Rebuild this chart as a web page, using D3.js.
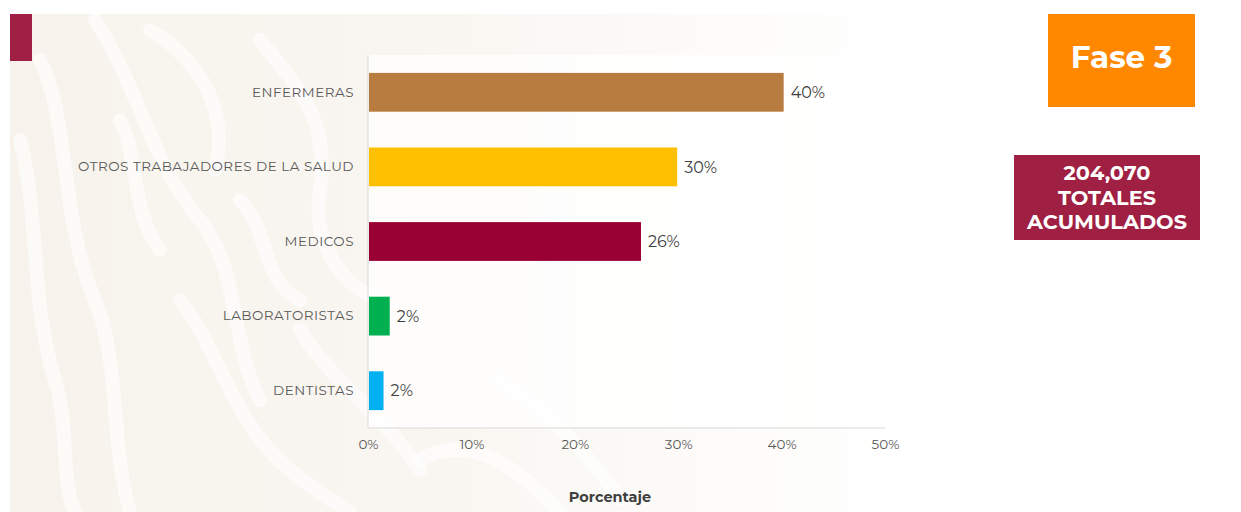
<!DOCTYPE html>
<html>
<head>
<meta charset="utf-8">
<script src="https://cdn.jsdelivr.net/npm/d3@7"></script>
<style>
  html, body { margin: 0; padding: 0; background: #ffffff; }
  svg { display: block; }
</style>
</head>
<body>
<svg id="chart" width="1241" height="512"></svg>
<script>
// Health-worker categories and their share of accumulated cases (%)
const categories = ["ENFERMERAS", "OTROS TRABAJADORES DE LA SALUD", "MEDICOS", "LABORATORISTAS", "DENTISTAS"];
const shares = [40.2, 29.9, 26.4, 2.1, 1.5];
const barColors = ["#b87b40", "#ffc000", "#990033", "#00b050", "#00b0f0"];
const tickValues = [0, 10, 20, 30, 40, 50];
const axisTitle = "Porcentaje";
const phaseLabel = "Fase 3";
const totalLines = ["204,070", "TOTALES", "ACUMULADOS"];

const svg = d3.select("#chart");
const font = "Montserrat, 'Open Sans', sans-serif";

// Decorative beige backdrop fading to white
const defs = svg.append("defs");
const grad = defs.append("linearGradient").attr("id", "bgfade").attr("x1", 0).attr("x2", 1).attr("y1", 0).attr("y2", 0);
grad.append("stop").attr("offset", "0%").attr("stop-color", "#f7f3ec");
grad.append("stop").attr("offset", "45%").attr("stop-color", "#f9f6f1");
grad.append("stop").attr("offset", "100%").attr("stop-color", "#ffffff");
svg.append("rect").attr("x", 10).attr("y", 14).attr("width", 900).attr("height", 498).attr("fill", "url(#bgfade)");

// Stylised white swirls of the backdrop ornament
const swirls = [
  "M40,60 C70,120 60,220 95,300 C120,360 110,440 130,512",
  "M95,20 C140,90 150,160 200,220 C240,270 230,340 260,400",
  "M20,140 C40,220 30,300 55,380 C70,430 60,480 75,512",
  "M150,30 C200,60 230,110 215,170",
  "M260,40 C300,90 330,120 320,190 C310,250 350,290 380,300",
  "M180,300 C220,350 230,420 290,470 C320,495 340,505 350,512",
  "M300,330 C330,380 380,410 420,470",
  "M240,200 C270,230 260,280 300,300",
  "M120,120 C140,160 130,210 160,250",
  "M420,460 C470,430 520,470 560,512",
  "M500,380 C540,410 580,440 620,500"
];
svg.append("g").selectAll("path").data(swirls).join("path")
  .attr("d", d => d)
  .attr("fill", "none")
  .attr("stroke", "#ffffff")
  .attr("stroke-width", 14)
  .attr("stroke-linecap", "round")
  .attr("opacity", 0.6);

// Plot area
const x = d3.scaleLinear().domain([0, 50]).range([368, 885]);
const y = d3.scaleBand().domain(categories).range([55, 428]).paddingInner(0.48).paddingOuter(0.24);

svg.append("rect").attr("x", 368).attr("y", 55).attr("width", 517).attr("height", 373)
  .attr("fill", "#ffffff").attr("opacity", 0.75);

// Axis lines
svg.append("line").attr("x1", x(0)).attr("x2", x(0)).attr("y1", 55).attr("y2", 428)
  .attr("stroke", "#d9d9d9").attr("stroke-width", 1);
svg.append("line").attr("x1", x(0)).attr("x2", x(50)).attr("y1", 428).attr("y2", 428)
  .attr("stroke", "#d9d9d9").attr("stroke-width", 1);

// X axis tick labels
const xAxis = d3.axisBottom(x).tickValues(tickValues).tickFormat(d => d + "%").tickSize(0).tickPadding(11);
const gx = svg.append("g").attr("transform", "translate(0,428)").call(xAxis);
gx.select(".domain").remove();
gx.selectAll("text").attr("font-family", font).attr("font-size", 13.5).attr("fill", "#595959");

// Y axis category labels
const yAxis = d3.axisLeft(y).tickSize(0).tickPadding(14);
const gy = svg.append("g").attr("transform", `translate(${x(0)},0)`).call(yAxis);
gy.select(".domain").remove();
gy.selectAll("text").attr("font-family", font).attr("font-size", 13.5)
  .attr("letter-spacing", 0.5).attr("fill", "#595959");

// Bars
const rows = categories.map((c, i) => ({ c, v: shares[i], color: barColors[i] }));
svg.append("g").selectAll("rect").data(rows).join("rect")
  .attr("x", x(0) + 1)
  .attr("y", d => y(d.c))
  .attr("width", d => x(d.v) - x(0) - 1)
  .attr("height", y.bandwidth())
  .attr("fill", d => d.color);

// Value labels
svg.append("g").selectAll("text").data(rows).join("text")
  .attr("x", d => x(d.v) + 7)
  .attr("y", d => y(d.c) + y.bandwidth() / 2)
  .attr("dy", "0.35em")
  .attr("font-family", font)
  .attr("font-size", 16)
  .attr("fill", "#404040")
  .text(d => Math.round(d.v) + "%");

// Axis title
svg.append("text").attr("x", 610).attr("y", 502)
  .attr("text-anchor", "middle").attr("font-family", font).attr("font-size", 14.5)
  .attr("font-weight", "bold").attr("fill", "#404040").text(axisTitle);

// Corner accent
svg.append("rect").attr("x", 10).attr("y", 14).attr("width", 22).attr("height", 47).attr("fill", "#a01f45");

// Phase badge
svg.append("rect").attr("x", 1048).attr("y", 14).attr("width", 147).attr("height", 93).attr("fill", "#ff8800");
svg.append("text").attr("x", 1121.5).attr("y", 68).attr("text-anchor", "middle")
  .attr("font-family", font).attr("font-size", 31).attr("font-weight", "bold")
  .attr("fill", "#ffffff").text(phaseLabel);

// Accumulated total badge
svg.append("rect").attr("x", 1014).attr("y", 155).attr("width", 186).attr("height", 85).attr("fill", "#9f2042");
svg.append("g").selectAll("text").data(totalLines).join("text")
  .attr("x", 1107)
  .attr("y", (d, i) => 180 + i * 24.5)
  .attr("text-anchor", "middle")
  .attr("font-family", font).attr("font-size", 20.8).attr("font-weight", "bold")
  .attr("fill", "#ffffff").text(d => d);
</script>
</body>
</html>
